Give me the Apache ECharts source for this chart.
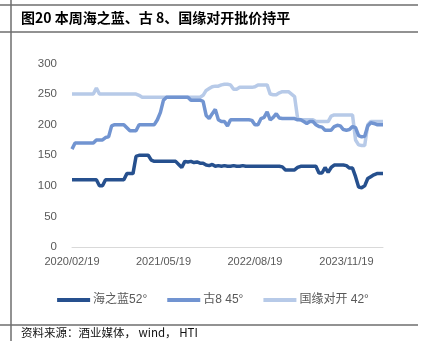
<!DOCTYPE html>
<html>
<head>
<meta charset="utf-8">
<script src="https://cdn.jsdelivr.net/npm/echarts@6/dist/echarts.min.js"></script>
<style>html,body{margin:0;padding:0;background:#fff}#c{width:426px;height:351px}</style>
</head>
<body>
<div id="c"></div>
<script>
// Tick labels shown on the x axis
const tickLabels = ['2020/02/19', '2021/05/19', '2022/08/19', '2023/11/19'];

// Semi-monthly dates from 2020/02/19 to 2024/05/19
const categories = [];
(function () {
  let y = 2020, m = 2;
  while (true) {
    const mm = String(m).padStart(2, '0');
    categories.push(y + '/' + mm + '/19');
    if (y === 2024 && m === 5) break;
    m++; if (m > 12) { m = 1; y++; }
    categories.push(y + '/' + String(m).padStart(2, '0') + '/04');
  }
})();

const seriesNames = ['海之蓝52°', '古8 45°', '国缘对开 42°'];

const haizhilan = [
  110,110,110,110,110,110,110,110,110,100,100,110,110,110,110,110,110,110,120,120,
  120,148,150,150,150,150,142,140,140,140,140,140,140,140,140,135,130,140,139,140,
  138,139,137,137,134,133,135,132,133,132,133,132,132,133,132,132,133,132,132,132,
  132,132,132,132,132,132,132,132,132,131,126,126,126,126,130,132,132,132,132,132,
  132,121,121,130,122,130,134,134,134,134,133,129,129,115,98,97,100,112,115,118,
  120,120,120
];

const gu8 = [
  160,170,170,170,170,170,170,170,175,175,175,179,180,198,200,200,200,200,195,190,
  190,190,200,200,200,200,200,200,208,220,240,245,245,245,245,245,245,245,245,240,
  240,240,240,238,215,210,218,225,208,205,205,198,208,208,208,208,208,208,208,207,
  200,200,210,212,221,208,212,218,211,210,210,210,210,210,208,208,205,202,205,205,
  200,197,196,191,191,191,197,199,198,192,191,192,197,195,182,180,181,198,203,202,
  200,200,200
];

const guoyuan = [
  250,250,250,250,250,250,250,250,260,250,250,250,250,250,250,250,250,250,250,250,
  250,250,248,245,245,245,245,245,245,245,245,245,245,245,245,245,245,245,245,245,
  245,245,245,248,256,259,262,263,263,265,266,266,265,258,258,261,261,261,261,261,
  262,265,265,265,265,250,249,249,252,254,254,254,250,246,210,208,208,208,208,208,
  205,205,205,205,205,214,216,216,216,216,216,216,216,175,167,166,166,200,205,205,
  205,205,205
];

const colors = ['#26508E', '#7194D1', '#B7CAE8'];

const chart = echarts.init(document.getElementById('c'), null, { renderer: 'canvas' });
const fontLatin = '"Liberation Sans", "Noto Sans CJK SC", sans-serif';

chart.setOption({
  animation: false,
  backgroundColor: '#fff',
  color: colors,
  grid: { left: 72, right: 43, top: 63.5, bottom: 104, containLabel: false },
  legend: {
    data: seriesNames,
    left: 'center',
    top: 289,
    icon: 'rect',
    itemWidth: 33,
    itemHeight: 4,
    itemGap: 20,
    textStyle: { color: '#595959', fontSize: 12, fontFamily: fontLatin, padding: [0, 0, 0, -2] }
  },
  xAxis: {
    type: 'category',
    data: categories,
    boundaryGap: false,
    axisLine: { lineStyle: { color: '#D9D9D9', width: 1 } },
    axisTick: { show: false },
    axisLabel: {
      interval: function (idx, val) { return tickLabels.indexOf(val) >= 0; },
      color: '#595959', fontSize: 11, fontFamily: fontLatin, margin: 9,
      hideOverlap: false
    },
    splitLine: { show: false }
  },
  yAxis: {
    type: 'value',
    min: 0, max: 300, interval: 50,
    axisLine: { show: false },
    axisTick: { show: false },
    splitLine: { show: false },
    axisLabel: { color: '#595959', fontSize: 11.5, fontFamily: fontLatin, margin: 15 }
  },
  series: [
    { name: seriesNames[0], type: 'line', data: haizhilan, showSymbol: false, symbol: 'none', z: 4,
      lineStyle: { width: 3.5, color: colors[0] } },
    { name: seriesNames[1], type: 'line', data: gu8, showSymbol: false, symbol: 'none', z: 3,
      lineStyle: { width: 3.5, color: colors[1] } },
    { name: seriesNames[2], type: 'line', data: guoyuan, showSymbol: false, symbol: 'none', z: 2,
      lineStyle: { width: 3.5, color: colors[2] } }
  ],
  graphic: [
    { type: 'line', shape: { x1: 0, y1: 5, x2: 418, y2: 5 }, style: { stroke: '#6E6E6E', lineWidth: 1.5 } },
    { type: 'line', shape: { x1: 0, y1: 32, x2: 418, y2: 32 }, style: { stroke: '#6E6E6E', lineWidth: 1.5 } },
    { type: 'line', shape: { x1: 0, y1: 325, x2: 418, y2: 325 }, style: { stroke: '#6E6E6E', lineWidth: 1.5 } },
    { type: 'line', shape: { x1: 11, y1: 0, x2: 11, y2: 341 }, style: { stroke: '#6E6E6E', lineWidth: 1.5 } },
    { type: 'text', left: 21, top: 11,
      style: { text: '图20 本周海之蓝、古 8、国缘对开批价持平', fill: '#000', font: 'bold 14px "Noto Sans CJK SC", sans-serif' } },
    { type: 'text', left: 21, top: 327,
      style: { text: '资料来源：酒业媒体， wind， HTI', fill: '#111', font: '11.5px "Noto Sans CJK SC", sans-serif' } }
  ]
});
</script>
</body>
</html>
